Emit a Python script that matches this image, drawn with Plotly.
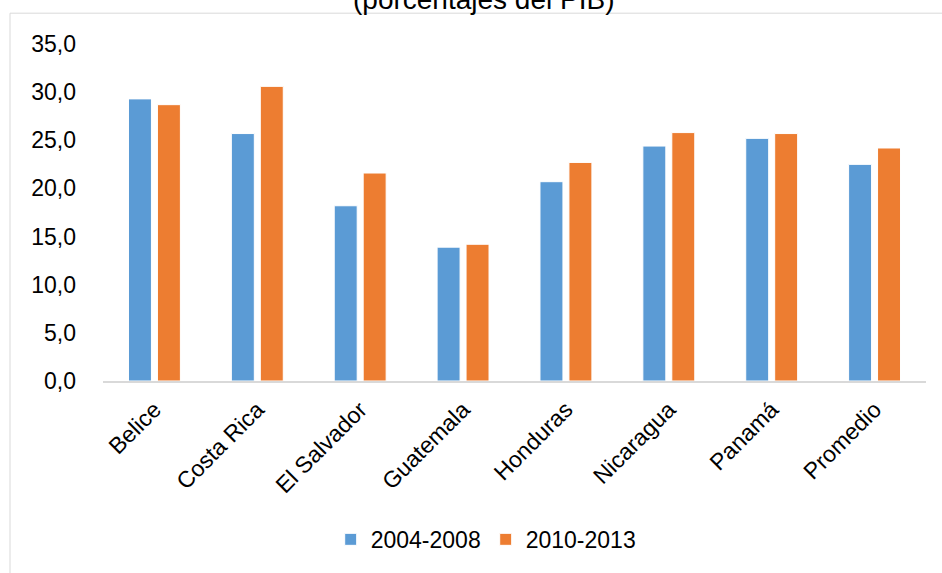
import plotly.graph_objects as go

# Datos: porcentajes del PIB por país y período
paises = ["Belice", "Costa Rica", "El Salvador", "Guatemala", "Honduras",
          "Nicaragua", "Panamá", "Promedio"]
periodo_1 = [29.3, 25.7, 18.2, 13.9, 20.7, 24.4, 25.2, 22.5]
periodo_2 = [28.7, 30.6, 21.6, 14.2, 22.7, 25.8, 25.7, 24.2]
nombres = ["2004-2008", "2010-2013"]
colores = ["#5B9BD5", "#ED7D31"]
y_ticks = [0, 5, 10, 15, 20, 25, 30, 35]

FONT = "Liberation Sans, Arial, sans-serif"

fig = go.Figure()
for nombre, valores, color in zip(nombres, [periodo_1, periodo_2], colores):
    fig.add_trace(go.Bar(
        x=paises, y=valores, name=nombre,
        marker=dict(color=color, line=dict(color="white", width=1)),
    ))

fig.update_layout(
    width=942, height=573,
    margin=dict(l=103, r=16, t=44, b=190),
    paper_bgcolor="white", plot_bgcolor="white",
    separators=",.",
    barmode="group", bargap=0.437, bargroupgap=0.207,
    font=dict(family=FONT, size=24, color="#000000"),
    showlegend=True,
    legend=dict(orientation="h", x=0.465, xanchor="center",
                y=-0.47, yanchor="middle",
                font=dict(size=23), itemwidth=30, traceorder="normal"),
    xaxis=dict(showgrid=False, showline=True, linecolor="#D9D9D9", linewidth=2,
               ticks="", tickangle=-45, tickfont=dict(size=23),
               ticklabelstandoff=4, automargin=False),
    yaxis=dict(range=[0, 35], tickvals=y_ticks, tickformat=".1f",
               showgrid=False, zeroline=False, showline=False, ticks="",
               tickfont=dict(size=23), ticklabelstandoff=26, automargin=False),
    shapes=[dict(type="rect", xref="paper", yref="paper",
                 x0=-0.113, x1=1.2, y0=-0.8, y1=1.0914,
                 line=dict(color="#D9D9D9", width=1), layer="below")],
    annotations=[dict(text="(porcentajes del PIB)", xref="paper", yref="paper",
                      x=0.462, y=1.132, xanchor="center", yanchor="middle",
                      showarrow=False, font=dict(size=28, color="#000000"))],
)

fig.write_html("out.html")
